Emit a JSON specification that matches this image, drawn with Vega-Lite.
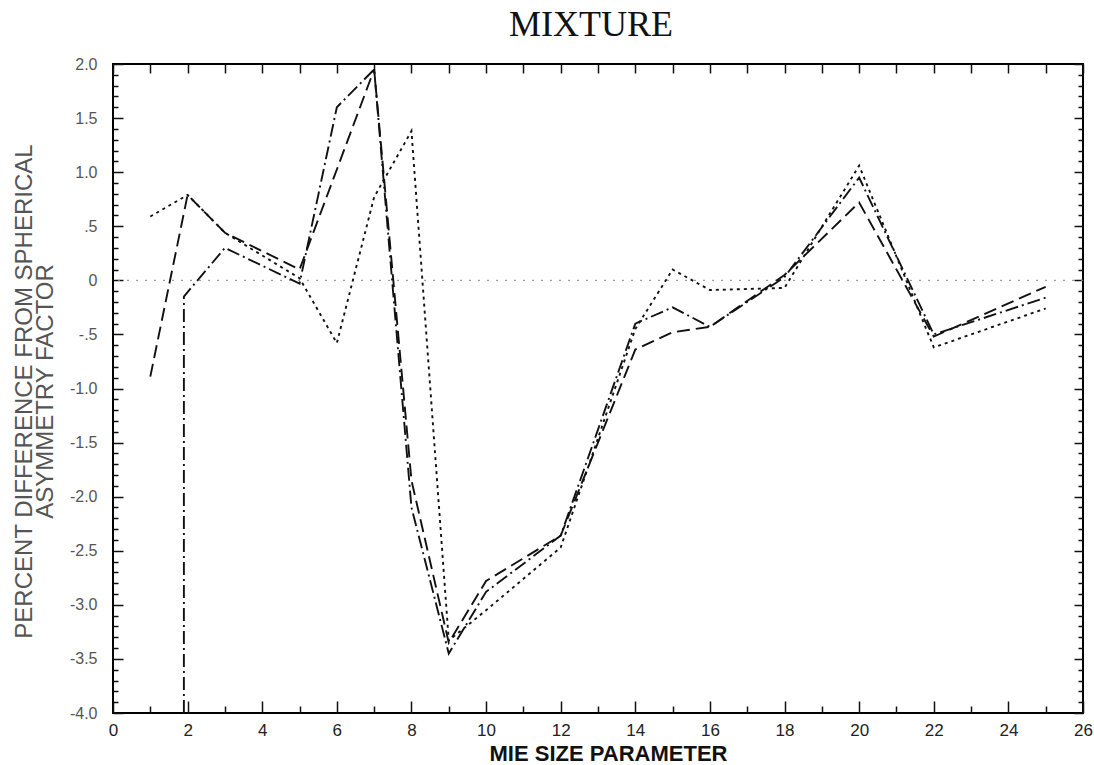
{
  "$schema": "https://vega.github.io/schema/vega-lite/v6.json",
  "width": 970,
  "height": 649,
  "autosize": {"type": "none"},
  "padding": {"left": 113, "top": 64, "right": 11, "bottom": 52},
  "background": "white",
  "title": {"text": "MIXTURE", "font": "Liberation Serif", "fontSize": 36, "fontWeight": "normal", "color": "#111", "anchor": "middle", "dx": -7, "offset": 12},
  "config": {
    "view": {"stroke": "black", "strokeWidth": 2},
    "axis": {"domain": false, "grid": false, "tickColor": "#111", "tickWidth": 1.5, "labelOverlap": false, "labelFlush": false}
  },
  "datasets": {
    "zero": [{"y": 0}],
    "curves": [
      {"series": "dashed", "i": 1, "x": 1, "y": -0.89},
      {"series": "dashed", "i": 2, "x": 2, "y": 0.79},
      {"series": "dashed", "i": 3, "x": 3, "y": 0.44},
      {"series": "dashed", "i": 4, "x": 5, "y": 0.10},
      {"series": "dashed", "i": 5, "x": 7, "y": 1.95},
      {"series": "dashed", "i": 6, "x": 8, "y": -1.85},
      {"series": "dashed", "i": 7, "x": 9, "y": -3.35},
      {"series": "dashed", "i": 8, "x": 10, "y": -2.78},
      {"series": "dashed", "i": 9, "x": 12, "y": -2.36},
      {"series": "dashed", "i": 10, "x": 14, "y": -0.64},
      {"series": "dashed", "i": 11, "x": 15, "y": -0.48},
      {"series": "dashed", "i": 12, "x": 16, "y": -0.43},
      {"series": "dashed", "i": 13, "x": 18, "y": 0.05},
      {"series": "dashed", "i": 14, "x": 20, "y": 0.72},
      {"series": "dashed", "i": 15, "x": 22, "y": -0.52},
      {"series": "dashed", "i": 16, "x": 25, "y": -0.06},
      {"series": "dashdot", "i": 0, "x": 1.9, "y": -4.0},
      {"series": "dashdot", "i": 1, "x": 1.9, "y": -0.15},
      {"series": "dashdot", "i": 2, "x": 3, "y": 0.30},
      {"series": "dashdot", "i": 3, "x": 5, "y": -0.03},
      {"series": "dashdot", "i": 4, "x": 6, "y": 1.60},
      {"series": "dashdot", "i": 5, "x": 7, "y": 1.95},
      {"series": "dashdot", "i": 6, "x": 8, "y": -2.1},
      {"series": "dashdot", "i": 7, "x": 9, "y": -3.45},
      {"series": "dashdot", "i": 8, "x": 10, "y": -2.88},
      {"series": "dashdot", "i": 9, "x": 12, "y": -2.36},
      {"series": "dashdot", "i": 10, "x": 14, "y": -0.40},
      {"series": "dashdot", "i": 11, "x": 15, "y": -0.25},
      {"series": "dashdot", "i": 12, "x": 16, "y": -0.43},
      {"series": "dashdot", "i": 13, "x": 18, "y": 0.03},
      {"series": "dashdot", "i": 14, "x": 20, "y": 0.95},
      {"series": "dashdot", "i": 15, "x": 22, "y": -0.50},
      {"series": "dashdot", "i": 16, "x": 25, "y": -0.16},
      {"series": "dotted", "i": 1, "x": 1, "y": 0.59},
      {"series": "dotted", "i": 2, "x": 2, "y": 0.79},
      {"series": "dotted", "i": 3, "x": 3, "y": 0.44},
      {"series": "dotted", "i": 4, "x": 5, "y": 0.02},
      {"series": "dotted", "i": 5, "x": 6, "y": -0.58},
      {"series": "dotted", "i": 6, "x": 7, "y": 0.77},
      {"series": "dotted", "i": 7, "x": 8, "y": 1.38},
      {"series": "dotted", "i": 8, "x": 9, "y": -3.33},
      {"series": "dotted", "i": 9, "x": 10, "y": -3.05},
      {"series": "dotted", "i": 10, "x": 12, "y": -2.47},
      {"series": "dotted", "i": 11, "x": 14, "y": -0.45},
      {"series": "dotted", "i": 12, "x": 15, "y": 0.10},
      {"series": "dotted", "i": 13, "x": 16, "y": -0.09},
      {"series": "dotted", "i": 14, "x": 18, "y": -0.07},
      {"series": "dotted", "i": 15, "x": 20, "y": 1.06},
      {"series": "dotted", "i": 16, "x": 22, "y": -0.62},
      {"series": "dotted", "i": 17, "x": 25, "y": -0.26}
    ]
  },
  "layer": [
    {
      "data": {"name": "zero"},
      "mark": {"type": "rule", "color": "#888", "strokeWidth": 1, "strokeDash": [2, 7]},
      "encoding": {
        "y": {"field": "y", "type": "quantitative", "scale": {"domain": [-4, 2], "nice": false, "zero": false}, "axis": null}
      }
    },
    {
      "data": {"name": "curves"},
      "mark": {"type": "line", "color": "#111", "strokeWidth": 1.9, "clip": true},
      "encoding": {
        "x": {
          "field": "x", "type": "quantitative",
          "scale": {"domain": [0, 26], "nice": false, "zero": false},
          "axis": {
            "orient": "bottom",
            "values": [0,1,2,3,4,5,6,7,8,9,10,11,12,13,14,15,16,17,18,19,20,21,22,23,24,25,26],
            "format": "d",
            "labelExpr": "datum.value % 2 == 0 ? datum.label : ''",
            "tickSize": {"condition": {"test": "datum.value % 2 == 0", "value": -12}, "value": -7},
            "labelPadding": 21,
            "labelFont": "Liberation Sans", "labelFontSize": 17, "labelColor": "#222",
            "title": "MIE SIZE PARAMETER",
            "titleFont": "Liberation Sans", "titleFontSize": 22, "titleFontWeight": "bold", "titleColor": "#111",
            "titleX": 495, "titleY": 47, "titleBaseline": "alphabetic"
          }
        },
        "y": {
          "field": "y", "type": "quantitative",
          "scale": {"domain": [-4, 2], "nice": false, "zero": false},
          "axis": {
            "orient": "left",
            "values": [-4,-3.9,-3.8,-3.7,-3.6,-3.5,-3.4,-3.3,-3.2,-3.1,-3,-2.9,-2.8,-2.7,-2.6,-2.5,-2.4,-2.3,-2.2,-2.1,-2,-1.9,-1.8,-1.7,-1.6,-1.5,-1.4,-1.3,-1.2,-1.1,-1,-0.9,-0.8,-0.7,-0.6,-0.5,-0.4,-0.3,-0.2,-0.1,0,0.1,0.2,0.3,0.4,0.5,0.6,0.7,0.8,0.9,1,1.1,1.2,1.3,1.4,1.5,1.6,1.7,1.8,1.9,2],
            "labelExpr": "abs(datum.value*2 - round(datum.value*2)) > 0.001 ? '' : (datum.value == 0 ? '0' : (abs(datum.value) == 0.5 ? (datum.value < 0 ? '-.5' : '.5') : ((datum.value < 0 ? '-' : '') + format(abs(datum.value), '.1f'))))",
            "tickSize": {"condition": {"test": "abs(datum.value*2 - round(datum.value*2)) < 0.001", "value": -10}, "value": -5},
            "labelPadding": 26,
            "labelFont": "Liberation Sans", "labelFontSize": 16, "labelColor": "#555",
            "title": ["PERCENT DIFFERENCE FROM SPHERICAL", "ASYMMETRY FACTOR"],
            "titleFont": "Liberation Sans", "titleFontSize": 24, "titleFontWeight": "normal", "titleColor": "#555",
            "titleLineHeight": 21, "titleX": -89, "titleY": 327, "titleBaseline": "middle", "titleAlign": "center", "titleAngle": -90
          }
        },
        "strokeDash": {
          "field": "series", "type": "nominal",
          "scale": {"domain": ["dashed", "dashdot", "dotted"], "range": [[13, 6], [13, 4, 2, 4], [3, 4]]},
          "legend": null
        },
        "order": {"field": "i", "type": "quantitative"}
      }
    },
    {
      "data": {"name": "curves"},
      "mark": {"type": "point", "opacity": 0},
      "encoding": {
        "x": {
          "field": "x", "type": "quantitative",
          "scale": {"domain": [0, 26], "nice": false, "zero": false},
          "axis": {"orient": "top", "values": [0,1,2,3,4,5,6,7,8,9,10,11,12,13,14,15,16,17,18,19,20,21,22,23,24,25,26], "labels": false, "tickSize": -9, "title": null}
        },
        "y": {
          "field": "y", "type": "quantitative",
          "scale": {"domain": [-4, 2], "nice": false, "zero": false},
          "axis": {
            "orient": "right",
            "values": [-4,-3.9,-3.8,-3.7,-3.6,-3.5,-3.4,-3.3,-3.2,-3.1,-3,-2.9,-2.8,-2.7,-2.6,-2.5,-2.4,-2.3,-2.2,-2.1,-2,-1.9,-1.8,-1.7,-1.6,-1.5,-1.4,-1.3,-1.2,-1.1,-1,-0.9,-0.8,-0.7,-0.6,-0.5,-0.4,-0.3,-0.2,-0.1,0,0.1,0.2,0.3,0.4,0.5,0.6,0.7,0.8,0.9,1,1.1,1.2,1.3,1.4,1.5,1.6,1.7,1.8,1.9,2],
            "labels": false,
            "tickSize": {"condition": {"test": "abs(datum.value*2 - round(datum.value*2)) < 0.001", "value": -9}, "value": -5},
            "title": null
          }
        }
      }
    }
  ],
  "resolve": {"axis": {"x": "independent", "y": "independent"}}
}
